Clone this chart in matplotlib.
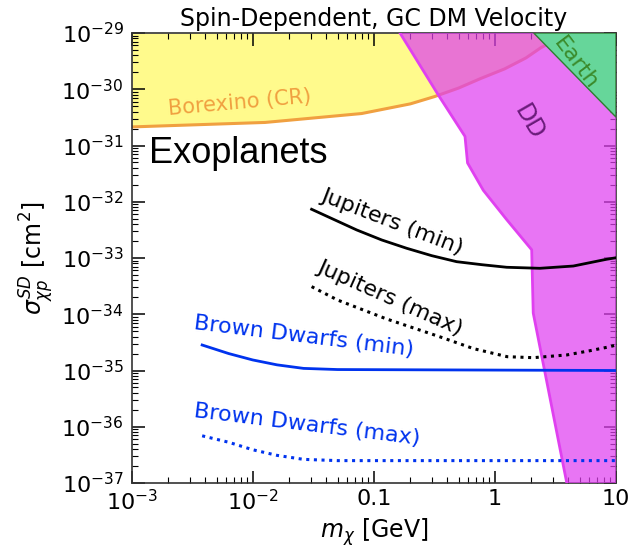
import matplotlib
matplotlib.use("Agg")
import matplotlib.pyplot as plt
from matplotlib.ticker import LogLocator, FixedLocator, FixedFormatter, NullFormatter
import numpy as np

# Data (m in GeV, sigma in cm^2)
borexino_m = [0.001, 0.0126, 0.079, 0.2, 0.316, 0.5, 0.76, 1.2, 1.8, 2.4, 3.0]
borexino_sigma = [2.14e-31, 2.57e-31, 3.7e-31, 5.5e-31, 7.4e-31, 1.05e-30, 1.55e-30,
                  2.3e-30, 3.6e-30, 5.5e-30, 7.0e-30]

dd_m = [0.164, 0.34, 0.565, 0.593, 0.80, 1.25, 2.01, 2.07, 3.92]
dd_sigma = [1e-29, 7.9e-31, 1.45e-31, 4.9e-32, 1.6e-32, 4.8e-33, 1.4e-33, 1.05e-34, 1e-37]

earth_m = [2.09, 10.0, 10.0]
earth_sigma = [1e-29, 3.2e-31, 1e-29]

jup_min_m = [0.0305, 0.046, 0.072, 0.116, 0.186, 0.3, 0.482, 0.78, 1.25, 2.35, 4.44, 8.37, 10.0]
jup_min_sigma = [7.35e-33, 4.9e-33, 3.15e-33, 2.09e-33, 1.49e-33, 1.1e-33, 8.6e-34, 7.6e-34,
                 6.84e-34, 6.56e-34, 7.2e-34, 9.5e-34, 1.01e-33]

jup_max_m = [0.0305, 0.05, 0.126, 0.347, 0.664, 1.26, 2.07, 3.92, 6.1, 8.9, 10.0]
jup_max_sigma = [3.1e-34, 1.79e-34, 8.3e-35, 4.0e-35, 2.45e-35, 1.76e-35, 1.69e-35, 1.89e-35,
                 2.25e-35, 2.65e-35, 2.84e-35]

bd_min_m = [0.0038, 0.0063, 0.00995, 0.0158, 0.0262, 0.05, 10.0]
bd_min_sigma = [2.84e-35, 2.0e-35, 1.54e-35, 1.26e-35, 1.09e-35, 1.04e-35, 1.0e-35]

bd_max_m = [0.0038, 0.0063, 0.00995, 0.0158, 0.0262, 0.05, 10.0]
bd_max_sigma = [6.9e-37, 5.3e-37, 3.9e-37, 3.1e-37, 2.63e-37, 2.5e-37, 2.5e-37]

x_ticks = [1e-3, 1e-2, 0.1, 1, 10]
x_tick_labels = [r'$10^{-3}$', r'$10^{-2}$', '0.1', '1', '10']

plt.rcParams['font.family'] = ['DejaVu Sans']
plt.rcParams['mathtext.fontset'] = 'dejavusans'

fig = plt.figure(figsize=(6.35, 5.48), dpi=100)
ax = fig.add_axes([132 / 635, 65 / 548, 484 / 635, 450 / 548])

# Borexino (CR) region
ax.fill_between(borexino_m, borexino_sigma, 1e-29, color='#fffa8c', lw=0, zorder=1)
ax.plot(borexino_m, borexino_sigma, color='#f0a040', lw=2.2, zorder=2)

# Direct detection region
dd_x = dd_m + [10.0, 10.0]
dd_y = dd_sigma + [1e-37, 1e-29]
ax.fill(dd_x, dd_y, color='#e040f0', alpha=0.72, lw=0, zorder=3)
ax.plot(dd_m, dd_sigma, color='#e040f0', lw=2, zorder=3)

# Earth region
ax.fill(earth_m, earth_sigma, facecolor='#66d69a', edgecolor='#2e7d32', lw=1, zorder=4)

# Exoplanet curves
ax.plot(jup_min_m, jup_min_sigma, color='black', lw=2, zorder=5)
ax.plot(jup_max_m, jup_max_sigma, color='black', lw=2.2, ls=(0, (1, 1.5)), zorder=5)
ax.plot(bd_min_m, bd_min_sigma, color='#0033ee', lw=2, zorder=5)
ax.plot(bd_max_m, bd_max_sigma, color='#0033ee', lw=2.2, ls=(0, (1, 1.5)), zorder=5)

ax.set_xscale('log')
ax.set_yscale('log')
ax.set_xlim(1e-3, 10)
ax.set_ylim(1e-37, 1e-29)

# Labels on the plot
ax.text(7.8e-3, 5.7e-31, 'Borexino (CR)', color='#f0a040', fontsize=15,
        rotation=5, ha='center', va='center', rotation_mode='anchor', zorder=6)
ax.text(1.91, 2.6e-31, 'DD', color='#6a1b7a', fontsize=17,
        rotation=-60, ha='center', va='center', rotation_mode='anchor', zorder=6)
ax.text(4.67, 2.9e-30, 'Earth', color='#3a8a2a', fontsize=16,
        rotation=-53, ha='center', va='center', rotation_mode='anchor', zorder=6)
ax.text(1.38e-3, 4.9e-32, 'Exoplanets', color='black', fontsize=26,
        family='Liberation Sans', ha='left', va='baseline', zorder=6)
ax.text(0.141, 4.5e-33, 'Jupiters (min)', color='black', fontsize=16,
        rotation=-21, ha='center', va='center', rotation_mode='anchor', zorder=6)
ax.text(0.1355, 1.95e-34, 'Jupiters (max)', color='black', fontsize=16,
        rotation=-24, ha='center', va='center', rotation_mode='anchor', zorder=6)
ax.text(0.0262, 3.98e-35, 'Brown Dwarfs (min)', color='#0033ee', fontsize=16,
        rotation=-7, ha='center', va='center', rotation_mode='anchor', zorder=6)
ax.text(0.0278, 1.07e-36, 'Brown Dwarfs (max)', color='#0033ee', fontsize=16,
        rotation=-7, ha='center', va='center', rotation_mode='anchor', zorder=6)

# Ticks
ax.xaxis.set_major_locator(FixedLocator(x_ticks))
ax.xaxis.set_major_formatter(FixedFormatter(x_tick_labels))
ax.xaxis.set_minor_locator(LogLocator(base=10, subs=np.arange(2, 10), numticks=100))
ax.xaxis.set_minor_formatter(NullFormatter())
ax.yaxis.set_major_locator(LogLocator(base=10, numticks=100))
ax.yaxis.set_minor_locator(LogLocator(base=10, subs=np.arange(2, 10), numticks=100))
ax.yaxis.set_minor_formatter(NullFormatter())
ax.tick_params(which='both', direction='in', top=True, right=True, labelsize=16)
ax.tick_params(which='major', length=9, width=1.1)
ax.tick_params(which='minor', length=4.5, width=0.8)
ax.tick_params(axis='x', pad=4)
ax.tick_params(axis='y', pad=6)

for spine in ax.spines.values():
    spine.set_linewidth(1.2)
    spine.set_color('#333333')

ax.set_xlabel(r'$m_\chi$ [GeV]', fontsize=17, labelpad=2)
ax.set_ylabel(r'$\sigma^{SD}_{\chi p}$ [cm$^2$]', fontsize=17, labelpad=4)
ax.set_title('Spin-Dependent, GC DM Velocity', fontsize=17, pad=5)

fig.savefig('out.png', dpi=100)
